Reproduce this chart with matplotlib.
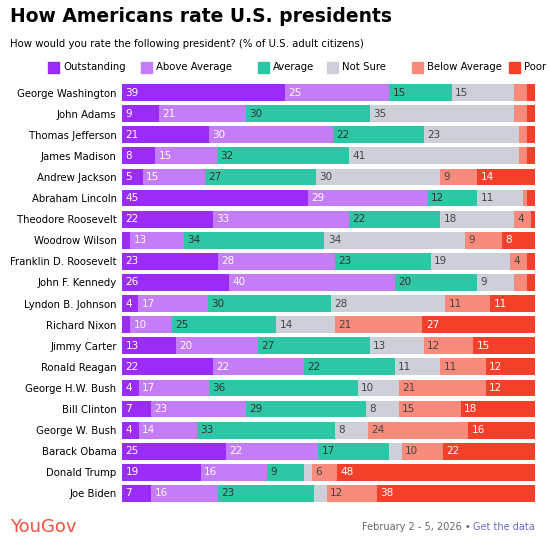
import matplotlib.pyplot as plt
from matplotlib.patches import Rectangle

presidents = ["George Washington","John Adams","Thomas Jefferson","James Madison","Andrew Jackson",
 "Abraham Lincoln","Theodore Roosevelt","Woodrow Wilson","Franklin D. Roosevelt","John F. Kennedy",
 "Lyndon B. Johnson","Richard Nixon","Jimmy Carter","Ronald Reagan","George H.W. Bush","Bill Clinton",
 "George W. Bush","Barack Obama","Donald Trump","Joe Biden"]
categories = ["Outstanding","Above Average","Average","Not Sure","Below Average","Poor"]
outstanding = [39,9,21,8,5,45,22,2,23,26,4,2,13,22,4,7,4,25,19,7]
above_avg   = [25,21,30,15,15,29,33,13,28,40,17,10,20,22,17,23,14,22,16,16]
average     = [15,30,22,32,27,12,22,34,23,20,30,25,27,22,36,29,33,17,9,23]
not_sure    = [15,35,23,41,30,11,18,34,19,9,28,14,13,11,10,8,8,3,2,3]
below_avg   = [3,3,2,2,9,1,4,9,4,3,11,21,12,11,21,15,24,10,6,12]
poor        = [2,2,2,2,14,2,1,8,2,2,11,27,15,12,12,18,16,22,48,38]
series = [outstanding, above_avg, average, not_sure, below_avg, poor]
colors = ["#9b2cf5","#c47cf7","#2ec7a5","#cdd0d8","#f78b7b","#f3402a"]
txtcol = ["white","white","#333333","#444444","#444444","white"]

fig = plt.figure(figsize=(5.5,5.46), dpi=100)
ax = fig.add_axes([0.222, 1-504/546, 0.751, (504-82)/546])
n = len(presidents)
for i in range(n):
    tot = sum(s[i] for s in series)
    left = 0
    for k, s in enumerate(series):
        w = s[i]/tot*100
        ax.barh(i, w, left=left, height=0.8, color=colors[k], edgecolor='none')
        if s[i] >= 4:
            ax.text(left+0.8, i, str(s[i]), va='center', ha='left', fontsize=7.5, color=txtcol[k])
        left += w
ax.set_xlim(0,100)
ax.set_ylim(n-0.5,-0.5)
ax.set_yticks(range(n))
ax.set_yticklabels(presidents, fontsize=7.3)
ax.tick_params(length=0, pad=4)
ax.set_xticks([])
for sp in ax.spines.values():
    sp.set_visible(False)

fig.text(0.018, 1-16/546, "How Americans rate U.S. presidents", fontsize=13.5, fontweight='bold', va='center')
fig.text(0.018, 1-44/546, "How would you rate the following president? (% of U.S. adult citizens)", fontsize=7.3, va='center')
xs = [48,141,258,327,412,509]
for x, c, lab in zip(xs, colors, categories):
    fig.patches.append(Rectangle((x/550, 1-73/546), 11/550, 11/546, color=c, transform=fig.transFigure))
    fig.text((x+15)/550, 1-67/546, lab, fontsize=7.3, va='center')
fig.text(0.018, 1-527/546, "YouGov", fontsize=13, color="#f0513f", va='center')
fig.text(0.973, 1-527/546, "Get the data", fontsize=7, color="#6a6ad0", ha='right', va='center')
fig.text(0.855, 1-527/546, "February 2 - 5, 2026 •", fontsize=7, color="#666666", ha='right', va='center')
fig.savefig("out.png", dpi=100)
